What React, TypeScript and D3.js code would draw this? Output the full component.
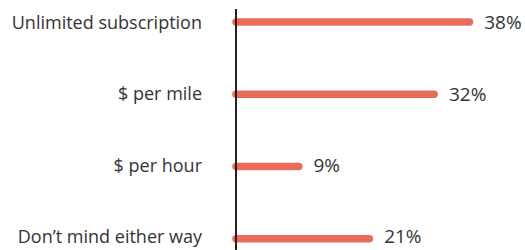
import React from "react";
import * as d3 from "d3";

const categories = ["Unlimited subscription", "$ per mile", "$ per hour", "Don\u2019t mind either way"];
const values = [38, 32, 9, 21];

const W = 525;
const H = 250;
const axisX = 236;

export default function App() {
  const x = d3.scaleLinear().domain([0, 38]).range([axisX + 9.7, axisX + 9.7 + 223.8]);
  const y = d3.scalePoint<string>().domain(categories).range([22, 238.7]);
  const yText = d3.scalePoint<string>().domain(categories).range([22.5, 236.3]);
  const fontSize = 18;
  return (
    <svg
      width={W}
      height={H}
      style={{ position: "absolute", left: 0, top: 0 }}
      fontFamily="'Open Sans', 'Noto Sans', sans-serif"
    >
      {categories.map((c, i) => {
        const cy = y(c)!;
        const ty = yText(c)!;
        const x1 = x(values[i]);
        return (
          <g key={c}>
            <line
              x1={axisX}
              x2={x1}
              y1={cy}
              y2={cy}
              stroke="#ea6a5b"
              strokeWidth={7.5}
              strokeLinecap="round"
            />
            <text x={202} y={ty} dy="0.36em" textAnchor="end" fontSize={fontSize} fill="#333">
              {c}
            </text>
            <text x={x1 + 3.75 + 11} y={ty} dy="0.36em" textAnchor="start" fontSize={19} fill="#333">
              {values[i]}%
            </text>
          </g>
        );
      })}
      <line x1={axisX} x2={axisX} y1={9} y2={H} stroke="#222" strokeWidth={2} />
    </svg>
  );
}
